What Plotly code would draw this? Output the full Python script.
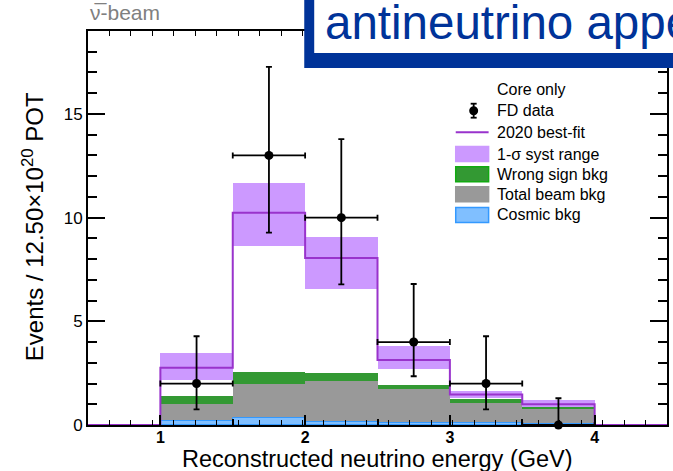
import plotly.graph_objects as go

# ---- binning (GeV) ----
bin_edges = [0.5, 1.0, 1.5, 2.0, 2.5, 3.0, 3.5, 4.0, 4.5]
bin_centers = [1.25, 1.75, 2.25, 2.75, 3.25, 3.75]
bin_width = 0.5

# ---- FD data (Feldman-Cousins style asymmetric errors) ----
fd_counts = [2, 13, 10, 4, 2, 0]
fd_err_up = [2.28, 4.27, 3.79, 2.80, 2.28, 1.29]
fd_err_down = [1.25, 3.72, 3.22, 1.65, 1.25, 0.0]

# ---- 2020 best-fit prediction over the full range ----
best_fit = [0.0, 2.76, 10.23, 8.05, 3.13, 1.47, 1.00, 0.0]
syst_low = [2.18, 8.64, 6.55, 2.70, 1.30, 0.84]
syst_high = [3.47, 11.68, 9.06, 3.82, 1.64, 1.19]

# ---- backgrounds ----
cosmic_bkg = [0.20, 0.35, 0.15, 0.10, 0.08, 0.06]
beam_bkg = [0.83, 1.65, 1.96, 1.62, 0.98, 0.72]
wrong_sign_bkg = [0.36, 0.56, 0.38, 0.23, 0.17, 0.05]

y_ticks = [0, 5, 10, 15]
x_ticks = [1, 2, 3, 4]

legend_labels = ["Core only", "FD data", "2020 best-fit", "1-\u03c3 syst range",
                 "Wrong sign bkg", "Total beam bkg", "Cosmic bkg"]

FONT = "Liberation Sans, Arial, Helvetica, sans-serif"
PURPLE = "#9933cc"
BAND = "#cc99ff"
GREEN = "#339933"
GRAY = "#999999"
COSMIC = "#80bfff"
COSMIC_EDGE = "#3399ff"
NAVY = "#003399"

W, H = 673, 471
L, R, T, B = 88, 4, 31, 46
PW, PH = W - L - R, H - T - B


def px(x):
    return (x - L) / PW


def py(y):
    return (H - B - y) / PH


fig = go.Figure()

# systematic band
fig.add_trace(go.Bar(
    x=bin_centers, base=syst_low,
    y=[h - l for h, l in zip(syst_high, syst_low)],
    width=bin_width, marker=dict(color=BAND, line=dict(width=0)),
    showlegend=False, hoverinfo="skip"))

stack_beam = [c + b for c, b in zip(cosmic_bkg, beam_bkg)]

# wrong-sign on top of beam background
fig.add_trace(go.Bar(
    x=bin_centers, base=stack_beam, y=wrong_sign_bkg,
    width=bin_width, marker=dict(color=GREEN, line=dict(width=0)),
    showlegend=False, hoverinfo="skip"))

# total beam background
fig.add_trace(go.Bar(
    x=bin_centers, base=cosmic_bkg, y=beam_bkg,
    width=bin_width, marker=dict(color=GRAY, line=dict(width=0)),
    showlegend=False, hoverinfo="skip"))

# cosmic background
fig.add_trace(go.Bar(
    x=bin_centers, base=[0] * len(cosmic_bkg), y=cosmic_bkg,
    width=bin_width, marker=dict(color=COSMIC, line=dict(color=COSMIC_EDGE, width=1)),
    showlegend=False, hoverinfo="skip"))

# best-fit step line
fig.add_trace(go.Scatter(
    x=bin_edges, y=best_fit + [best_fit[-1]],
    mode="lines", line=dict(color=PURPLE, width=2, shape="hv"),
    xaxis="x2", showlegend=False, hoverinfo="skip"))

# FD data
fig.add_trace(go.Scatter(
    x=bin_centers, y=fd_counts, mode="markers",
    marker=dict(color="black", size=9),
    error_y=dict(type="data", symmetric=False, array=fd_err_up,
                 arrayminus=fd_err_down, color="black", thickness=1.8, width=3),
    error_x=dict(type="data", array=[bin_width / 2] * len(bin_centers),
                 color="black", thickness=1.8, width=3),
    xaxis="x2", cliponaxis=False, showlegend=False, hoverinfo="skip"))

axis_common = dict(showgrid=False, zeroline=False, showline=True,
                   linecolor="black", linewidth=2)

fig.update_layout(
    width=W, height=H,
    margin=dict(l=L, r=R, t=T, b=B, pad=0),
    paper_bgcolor="white", plot_bgcolor="white",
    barmode="overlay", bargap=0,
    font=dict(family=FONT, color="black"),
    xaxis=dict(range=[0.5, 4.5], tickvals=x_ticks, ticktext=[str(v) for v in x_ticks],
               ticks="inside", ticklen=10, tickwidth=1.5, tickcolor="black",
               minor=dict(tick0=0.5, dtick=0.5, ticks="inside", ticklen=6,
                          tickwidth=1.5, tickcolor="black"),
               ticklabelstandoff=-3,
               mirror=True, tickfont=dict(size=16, family=FONT, weight="bold"),
               **axis_common),
    xaxis2=dict(range=[0.5, 4.5], overlaying="x", side="top", anchor="y",
                tick0=0.5, dtick=4 / 27, ticks="inside", ticklen=5, tickwidth=1.2,
                tickcolor="black", showticklabels=False, mirror="ticks",
                **axis_common),
    yaxis=dict(range=[0, 19], tickvals=y_ticks, ticks="inside", ticklen=17,
               tickwidth=1.5, tickcolor="black",
               minor=dict(dtick=1, ticks="inside", ticklen=9, tickwidth=1.5,
                          tickcolor="black"),
               mirror="ticks", tickfont=dict(size=17, family=FONT),
               **axis_common),
)

shapes = []
annotations = []

# axis titles
annotations.append(dict(
    text="Reconstructed neutrino energy (GeV)", x=px(378), y=py(459),
    xref="paper", yref="paper", xanchor="center", yanchor="middle",
    showarrow=False, font=dict(size=23.5, family=FONT, color="black")))
annotations.append(dict(
    text="Events / 12.50\u00d710<sup>20</sup> POT", x=px(33), y=py(227),
    xref="paper", yref="paper", xanchor="center", yanchor="middle",
    textangle=-90, showarrow=False, font=dict(size=24, family=FONT, color="black")))

# beam label
annotations.append(dict(
    text="\u03bd\u0305-beam", x=px(88), y=py(13), xref="paper", yref="paper",
    xanchor="left", yanchor="middle", showarrow=False,
    font=dict(size=21, family=FONT, color="#808080")))

# framed heading
shapes.append(dict(type="rect", xref="paper", yref="paper",
                   x0=px(305), x1=px(760), y0=py(68), y1=py(-30),
                   fillcolor=NAVY, line=dict(width=0), layer="above"))
shapes.append(dict(type="rect", xref="paper", yref="paper",
                   x0=px(315), x1=px(760), y0=py(53), y1=py(-30),
                   fillcolor="white", line=dict(width=0), layer="above"))
annotations.append(dict(
    text="antineutrino appearance", x=px(324), y=py(23), xref="paper", yref="paper",
    xanchor="left", yanchor="middle", showarrow=False,
    font=dict(size=47.5, family=FONT, color=NAVY)))

# legend
leg_text_x = 496
leg_rows = [90, 110.7, 132.3, 154, 174.3, 194.3, 215]
for label, yc in zip(legend_labels, leg_rows):
    annotations.append(dict(
        text=label, x=px(leg_text_x), y=py(yc), xref="paper", yref="paper",
        xanchor="left", yanchor="middle", showarrow=False,
        font=dict(size=16, family=FONT, color="black")))

sx0, sx1 = 457, 490
# FD data symbol
yc = leg_rows[1]
shapes.append(dict(type="line", xref="paper", yref="paper",
                   x0=px(475), x1=px(475), y0=py(yc - 7), y1=py(yc + 7),
                   line=dict(color="black", width=1.8)))
for yy in (yc - 7, yc + 7):
    shapes.append(dict(type="line", xref="paper", yref="paper",
                       x0=px(472), x1=px(478), y0=py(yy), y1=py(yy),
                       line=dict(color="black", width=1.8)))
shapes.append(dict(type="circle", xref="paper", yref="paper",
                   x0=px(470.5), x1=px(479.5), y0=py(yc - 4.5), y1=py(yc + 4.5),
                   fillcolor="black", line=dict(width=0)))
# best-fit line symbol
yc = leg_rows[2]
shapes.append(dict(type="line", xref="paper", yref="paper",
                   x0=px(sx0), x1=px(sx1), y0=py(yc), y1=py(yc),
                   line=dict(color=PURPLE, width=2)))
# filled boxes
box_styles = [(BAND, BAND), (GREEN, "#11aa11"), (GRAY, GRAY), (COSMIC, COSMIC_EDGE)]
for (fill, edge), yc in zip(box_styles, leg_rows[3:]):
    shapes.append(dict(type="rect", xref="paper", yref="paper",
                       x0=px(sx0), x1=px(sx1), y0=py(yc + 7.5), y1=py(yc - 7.5),
                       fillcolor=fill, line=dict(color=edge, width=1.5)))

fig.update_layout(shapes=shapes, annotations=annotations)

fig.write_html("out.html")
